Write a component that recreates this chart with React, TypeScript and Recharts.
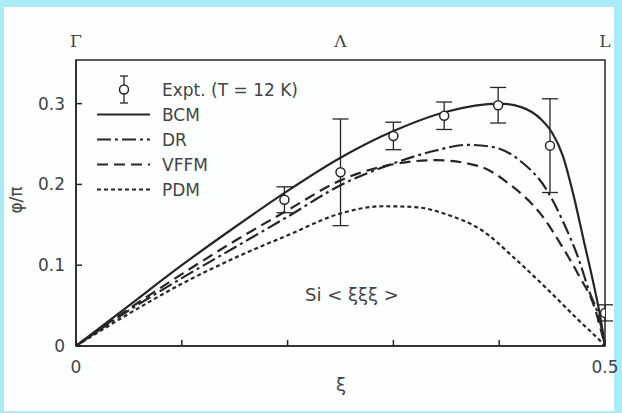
import { ComposedChart, Line, Scatter, ErrorBar, XAxis, YAxis, ReferenceArea } from "recharts";

const FONT = "'DejaVu Sans', 'Noto Sans', sans-serif";
const INK = "#262626";
const TEXT = "#444";

const xiTicks = [0, 0.1, 0.2, 0.3, 0.4, 0.5];
const xiLabelled = [0, 0.5];
const phiTicks = [0, 0.1, 0.2, 0.3];
const symXi = [0, 0.25, 0.5];
const symLabels = ["Γ", "Λ", "L"];

// bond charge model
const bcmXi = [0, 0.05, 0.1, 0.15, 0.2, 0.25, 0.3, 0.35, 0.4, 0.42, 0.44, 0.45, 0.46, 0.47, 0.48, 0.49, 0.495, 0.5];
const bcmPhi = [0, 0.05, 0.1, 0.147, 0.192, 0.233, 0.266, 0.29, 0.3, 0.296, 0.28, 0.264, 0.236, 0.188, 0.13, 0.072, 0.04, 0];

const drXi = [0, 0.05, 0.1, 0.15, 0.2, 0.25, 0.3, 0.34, 0.37, 0.395, 0.42, 0.445, 0.46, 0.475, 0.485, 0.495, 0.5];
const drPhi = [0, 0.044, 0.084, 0.122, 0.16, 0.199, 0.226, 0.242, 0.249, 0.246, 0.229, 0.193, 0.155, 0.108, 0.068, 0.032, 0];

const vffmXi = [0, 0.05, 0.1, 0.15, 0.2, 0.25, 0.3, 0.34, 0.38, 0.41, 0.44, 0.46, 0.475, 0.49, 0.5];
const vffmPhi = [0, 0.046, 0.089, 0.13, 0.168, 0.205, 0.225, 0.23, 0.223, 0.2, 0.162, 0.122, 0.088, 0.048, 0];

const pdmXi = [0, 0.05, 0.1, 0.15, 0.2, 0.25, 0.29, 0.32, 0.35, 0.385, 0.415, 0.445, 0.475, 0.495, 0.5];
const pdmPhi = [0, 0.04, 0.077, 0.109, 0.137, 0.164, 0.173, 0.172, 0.163, 0.142, 0.108, 0.071, 0.032, 0.007, 0];

// neutron data, T = 12 K
const exptXi = [0.197, 0.25, 0.3, 0.348, 0.399, 0.448, 0.5];
const exptPhi = [0.181, 0.215, 0.26, 0.285, 0.298, 0.248, 0.041];
const exptErr = [0.016, 0.066, 0.017, 0.017, 0.022, 0.058, 0.01];

const toRows = (xs: number[], ys: number[]) => xs.map((xi, i) => ({ xi, phi: ys[i] }));

const bcm = toRows(bcmXi, bcmPhi);
const dr = toRows(drXi, drPhi);
const vffm = toRows(vffmXi, vffmPhi);
const pdm = toRows(pdmXi, pdmPhi);
const expt = exptXi.map((xi, i) => ({ xi, phi: exptPhi[i], err: exptErr[i] }));

const models = [
  { name: "BCM", data: bcm, dash: undefined },
  { name: "DR", data: dr, dash: "14 4 3 4" },
  { name: "VFFM", data: vffm, dash: "11 6" },
  { name: "PDM", data: pdm, dash: "4 3" },
];

const tickStyle = { fill: TEXT, fontSize: 17, fontFamily: FONT };

function OpenCircle(props: any) {
  const { cx, cy } = props;
  if (cx == null || cy == null) return null;
  return <circle cx={cx} cy={cy} r={4.5} fill="#fff" stroke={INK} strokeWidth={1.5} />;
}

function LegendBox() {
  const rowH = 25;
  return (
    <div style={{ position: "absolute", left: 96, top: 77, fontFamily: FONT, fontSize: 17, color: TEXT }}>
      <div style={{ display: "flex", alignItems: "center", height: rowH }}>
        <svg width={56} height={rowH} style={{ overflow: "visible" }}>
          <line x1={28} x2={28} y1={-1} y2={26} stroke={INK} strokeWidth={1.3} />
          <line x1={24} x2={32} y1={-1} y2={-1} stroke={INK} strokeWidth={1.3} />
          <line x1={24} x2={32} y1={26} y2={26} stroke={INK} strokeWidth={1.3} />
          <circle cx={28} cy={12.5} r={4.5} fill="#fff" stroke={INK} strokeWidth={1.5} />
        </svg>
        <span style={{ marginLeft: 10 }}>Expt. (T = 12 K)</span>
      </div>
      {models.map((m) => (
        <div key={m.name} style={{ display: "flex", alignItems: "center", height: rowH }}>
          <svg width={56} height={rowH}>
            <line x1={1} x2={54} y1={12.5} y2={12.5} stroke={INK} strokeWidth={2.2} strokeDasharray={m.dash} />
          </svg>
          <span style={{ marginLeft: 10 }}>{m.name}</span>
        </div>
      ))}
    </div>
  );
}

export default function App() {
  return (
    <div style={{ position: "fixed", left: 0, top: 0, width: 622, height: 413, background: "#a9ecf7" }}>
      <div style={{ position: "absolute", left: 4, top: 7, width: 610, height: 404, background: "#fdfefe" }} />
      <div style={{ position: "absolute", left: 0, top: 0 }}>
        <ComposedChart width={622} height={413} margin={{ top: 30, right: 17, bottom: 22, left: 26 }}>
          <XAxis
            dataKey="xi"
            type="number"
            domain={[0, 0.5]}
            ticks={xiTicks}
            tickFormatter={(v: number) => (xiLabelled.includes(v) ? String(v) : "")}
            tick={tickStyle}
            tickSize={-6}
            tickMargin={21}
            height={45}
            stroke={INK}
            strokeWidth={1.5}
            allowDataOverflow
          />
          <XAxis
            xAxisId="sym"
            orientation="top"
            dataKey="xi"
            type="number"
            domain={[0, 0.5]}
            ticks={symXi}
            tickFormatter={(v: number) => symLabels[symXi.indexOf(v)] ?? ""}
            tick={{ ...tickStyle, fontFamily: "'DejaVu Serif', serif" }}
            tickLine={false}
            axisLine={false}
            tickSize={0}
            tickMargin={13}
            height={30}
            allowDataOverflow
          />
          <YAxis
            type="number"
            domain={[0, 0.354]}
            ticks={phiTicks}
            tickFormatter={(v: number) => (v === 0 ? "0" : v.toFixed(1))}
            tick={tickStyle}
            tickSize={-6}
            tickMargin={17}
            width={50}
            stroke={INK}
            strokeWidth={1.5}
            allowDataOverflow
          />
          <ReferenceArea x1={0} x2={0.5} y1={0} y2={0.354} fill="none" stroke={INK} strokeWidth={1.5} />
          {models.map((m) => (
            <Line
              key={m.name}
              data={m.data}
              dataKey="phi"
              type="monotone"
              stroke={INK}
              strokeWidth={2.2}
              strokeDasharray={m.dash}
              dot={false}
              activeDot={false}
              isAnimationActive={false}
            />
          ))}
          <Scatter data={expt} dataKey="phi" shape={OpenCircle} isAnimationActive={false}>
            <ErrorBar dataKey="err" direction="y" width={8} stroke={INK} strokeWidth={1.3} />
          </Scatter>
        </ComposedChart>
      </div>
      <LegendBox />
      <div
        style={{
          position: "absolute",
          left: 16,
          top: 200,
          transform: "translate(-50%, -50%) rotate(-90deg)",
          fontFamily: FONT,
          fontSize: 17,
          color: TEXT,
          whiteSpace: "nowrap",
        }}
      >
        φ/π
      </div>
      <div
        style={{
          position: "absolute",
          left: 341,
          top: 384,
          transform: "translate(-50%, -50%)",
          fontFamily: FONT,
          fontSize: 18,
          color: TEXT,
        }}
      >
        ξ
      </div>
      <div
        style={{
          position: "absolute",
          left: 305,
          top: 284,
          fontFamily: FONT,
          fontSize: 18,
          color: TEXT,
          whiteSpace: "nowrap",
        }}
      >
        Si &lt; ξξξ &gt;
      </div>
    </div>
  );
}
